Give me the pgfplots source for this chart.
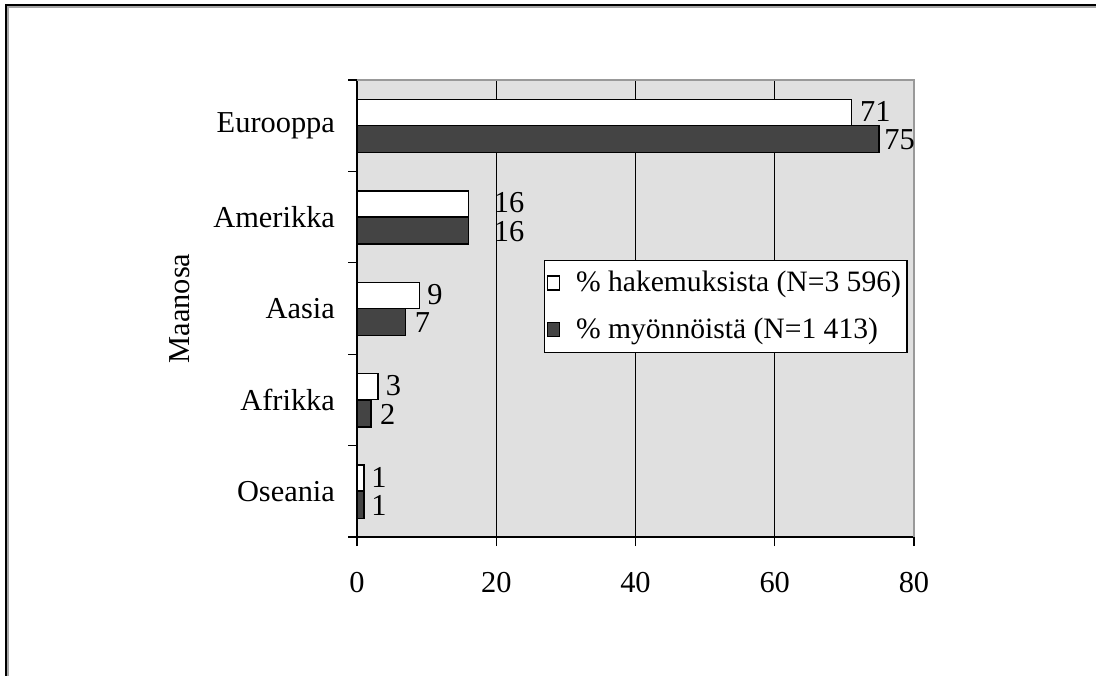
\documentclass[border=0pt]{standalone}
\usepackage{pgfplots}
\pgfplotsset{compat=1.18}
\usepackage{fontspec}
\setmainfont{Liberation Serif}
\definecolor{plotbg}{HTML}{E0E0E0}
\definecolor{darkbar}{HTML}{444444}
\begin{document}
\begin{tikzpicture}[font=\fontsize{15.2}{18}\selectfont]
\path[use as bounding box] (0,0) rectangle (548pt,-337.5pt);
\draw[gray!70, line width=0.6pt] (4pt,-345pt) -- (4pt,-3.5pt) -- (560pt,-3.5pt);
\draw[black, line width=1pt] (3pt,-345pt) -- (3pt,-2.5pt) -- (560pt,-2.5pt);
\begin{axis}[
  at={(178.5pt,-268.5pt)}, anchor=south west,
  scale only axis, width=278.5pt, height=228.5pt,
  xmin=0, xmax=80, ymin=-0.5, ymax=4.5,
  axis x line*=bottom, axis y line*=left,
  axis line style={black, line width=0.6pt},
  axis background/.style={fill=plotbg},
  xtick={0,20,40,60,80},
  xmajorgrids=true,
  major grid style={black, line width=0.45pt},
  tick align=outside,
  major tick length=4.5pt,
  tick style={black, line width=0.6pt},
  ytick={-0.5,0.5,1.5,2.5,3.5,4.5},
  yticklabels={},
  extra y ticks={0,1,2,3,4},
  extra y tick labels={Oseania,Afrikka,Aasia,Amerikka,Eurooppa},
  extra y tick style={major tick length=0pt, yticklabel style={xshift=-7.5pt}},
  xticklabel style={yshift=-9.5pt},
  /pgf/number format/assume math mode=true,
  ylabel={Maanosa},
  every axis y label/.style={at={(axis description cs:-0.318,0.5)}, rotate=90, anchor=center},
  clip=false,
  legend style={at={(rel axis cs:0.336,0.607)}, anchor=north west, draw=black, line width=0.6pt,
     fill=white, inner xsep=1pt, inner ysep=3.5pt, row sep=7.5pt,
     font=\fontsize{14.8}{18}\selectfont},
  legend cell align=left,
  legend image code/.code={\draw[#1, line width=0.6pt] (4.5pt,-3.5pt) rectangle (10.5pt,3.5pt); \path (16.5pt,0pt);},
]
\draw[gray!80, line width=0.8pt] (rel axis cs:0,1) -- (rel axis cs:1,1) -- (rel axis cs:1,0);
\addplot[xbar, bar width=13pt, bar shift=6.6pt, fill=white, draw=black, line width=0.7pt]
  coordinates {(71,4) (16,3) (9,2) (3,1) (1,0)};
\addplot[xbar, bar width=13.5pt, bar shift=-6.75pt, fill=darkbar, draw=black, line width=0.7pt]
  coordinates {(75,4) (16,3) (7,2) (2,1) (1,0)};
\legend{\% hakemuksista (N=3 596), \% myönnöistä (N=1 413)}
\addplot[forget plot, draw=none, mark=none, point meta=explicit symbolic,
  nodes near coords, nodes near coords align=horizontal,
  every node near coord/.append style={anchor=west, inner sep=0pt, font=\fontsize{15.2}{18}\selectfont}]
  coordinates {(72.2,4.152)[71] (19.6,3.155)[16] (10.05,2.152)[9] (4.08,1.152)[3] (2.0,0.155)[1]};
\addplot[forget plot, draw=none, mark=none, point meta=explicit symbolic,
  nodes near coords, nodes near coords align=horizontal,
  every node near coord/.append style={anchor=west, inner sep=0pt, font=\fontsize{15.2}{18}\selectfont}]
  coordinates {(75.7,3.845)[75] (19.6,2.84)[16] (8.25,1.845)[7] (3.27,0.845)[2] (2.0,-0.16)[1]};
\end{axis}
\end{tikzpicture}
\end{document}
